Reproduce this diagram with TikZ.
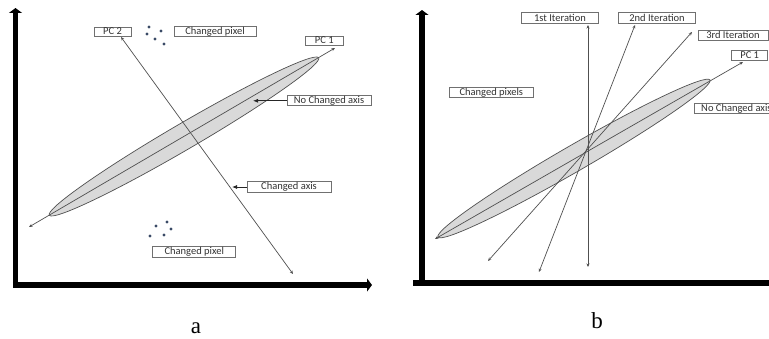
\documentclass[tikz,border=0pt]{standalone}
\usepackage{fontspec}
\setmainfont{Liberation Serif}
\newfontfamily\boxfont{Carlito}
\usetikzlibrary{arrows.meta}
\definecolor{linegray}{HTML}{505050}
\definecolor{boxgray}{HTML}{707070}
\definecolor{fillgray}{HTML}{D9D9D9}
\definecolor{dotblue}{HTML}{3A4A66}
\tikzset{
  lbl/.style={draw=boxgray, line width=0.8pt, fill=white, inner sep=0pt,
    font=\boxfont\fontsize{10.5}{11}\selectfont, text=black!80},
  thinline/.style={draw=linegray, line width=0.7pt,
    {Stealth[length=3.5pt,width=3pt]}-{Stealth[length=3.5pt,width=3pt]}},
  pointer/.style={draw=black!85, line width=0.8pt, -{Latex[length=5pt,width=4pt]}},
  axisline/.style={draw=black, line width=5.5pt, -{Triangle[length=5pt,width=13pt]}},
  leaf/.style={draw=linegray, line width=0.7pt, fill=fillgray},
  pix/.style={circle, fill=dotblue, inner sep=0pt, minimum size=3.3pt},
  panel/.style={font=\fontsize{23}{26}\selectfont, inner sep=0pt, anchor=base}
}
\begin{document}
\begin{tikzpicture}[x=1pt, y=-1pt]
\useasboundingbox (0,0) rectangle (769,339);
\clip (0,0) rectangle (769,339);
\fill[white] (0,0) rectangle (769,339);

% ================= Panel a =================
\coordinate (aO) at (15.5,285);
\coordinate (aY) at (15.5,8);
\coordinate (aX) at (372,285);
\draw[axisline] ([yshift=-2.75pt]aO) -- (aY);
\draw[axisline] ([xshift=-2.75pt]aO) -- (aX);

\coordinate (ca) at (184,136.5);
\draw[leaf, rotate around={30.3:(ca)}] (ca) ellipse [x radius=156pt, y radius=13pt];

\coordinate (a1s) at (29,227);
\coordinate (a1e) at (335,48);
\draw[thinline] (a1s) -- (a1e);

\node[lbl, minimum width=37pt, minimum height=9pt] (apc2) at (112.5,31.5) {PC 2};
\node[lbl, minimum width=82pt, minimum height=10pt] (acp1) at (215,31.7) {Changed pixel};
\node[lbl, minimum width=38pt, minimum height=9pt] (apc1) at (324.3,40.5) {PC 1};
\node[lbl, minimum width=84pt, minimum height=10pt] (anca) at (329,100.8) {No Changed axis};
\node[lbl, minimum width=84pt, minimum height=11pt] (aca) at (289,187) {Changed axis};
\node[lbl, minimum width=83pt, minimum height=10.5pt] (acp2) at (194.3,252) {Changed pixel};

\coordinate (a2s) at (121,37);
\coordinate (a2e) at (293,274);
\draw[thinline] (a2s) -- (a2e);

\coordinate (pa1) at (253,100.8);
\coordinate (pa2) at (232,187);
\draw[pointer] (anca.west) -- (pa1);
\draw[pointer] (aca.west) -- (pa2);

\node[pix] (d1) at (149,27) {};
\node[pix] (d2) at (161,31) {};
\node[pix] (d3) at (147,34) {};
\node[pix] (d4) at (155,39) {};
\node[pix] (d5) at (164,44) {};

\node[pix] (e1) at (156,226) {};
\node[pix] (e2) at (167,222) {};
\node[pix] (e3) at (171,229) {};
\node[pix] (e4) at (164,235) {};
\node[pix] (e5) at (150,236) {};

\node[panel] (la) at (196,334) {a};

% ================= Panel b =================
\coordinate (bO) at (422,283);
\coordinate (bY) at (422,10);
\coordinate (bX) at (785,283);
\draw[axisline] ([yshift=-2.75pt]bO) -- (bY);
\draw[axisline] ([xshift=-9pt]bO) -- (bX);

\coordinate (cb) at (574,158.5);
\draw[leaf, rotate around={30.0:(cb)}] (cb) ellipse [x radius=157pt, y radius=13pt];

\coordinate (b1s) at (435,239);
\coordinate (b1e) at (743,62);
\draw[thinline] (b1s) -- (b1e);

\coordinate (i1s) at (588,267);
\coordinate (i1e) at (588,25);
\coordinate (i2s) at (539,272);
\coordinate (i2e) at (635,25);
\coordinate (i3s) at (488,261);
\coordinate (i3e) at (692,32);
\draw[thinline] (i1s) -- (i1e);
\draw[thinline] (i2s) -- (i2e);
\draw[thinline] (i3s) -- (i3e);

\node[lbl, minimum width=77pt, minimum height=10.5pt] (bi1) at (560,18) {1st Iteration};
\node[lbl, minimum width=77pt, minimum height=10.5pt] (bi2) at (657,18) {2nd Iteration};
\node[lbl, minimum width=70pt, minimum height=10pt, anchor=west] (bi3) at (697.5,35) {3rd Iteration};
\node[lbl, minimum width=36pt, minimum height=10pt] (bpc1) at (749.7,55.5) {PC 1};
\node[lbl, minimum width=84pt, minimum height=10pt] (bcp) at (491.3,92.3) {Changed pixels};
\node[lbl, minimum width=84pt, minimum height=10pt, anchor=west] (bnca) at (694,108.3) {No Changed axis};

\node[panel] (lb) at (597,329) {b};
\end{tikzpicture}
\end{document}
